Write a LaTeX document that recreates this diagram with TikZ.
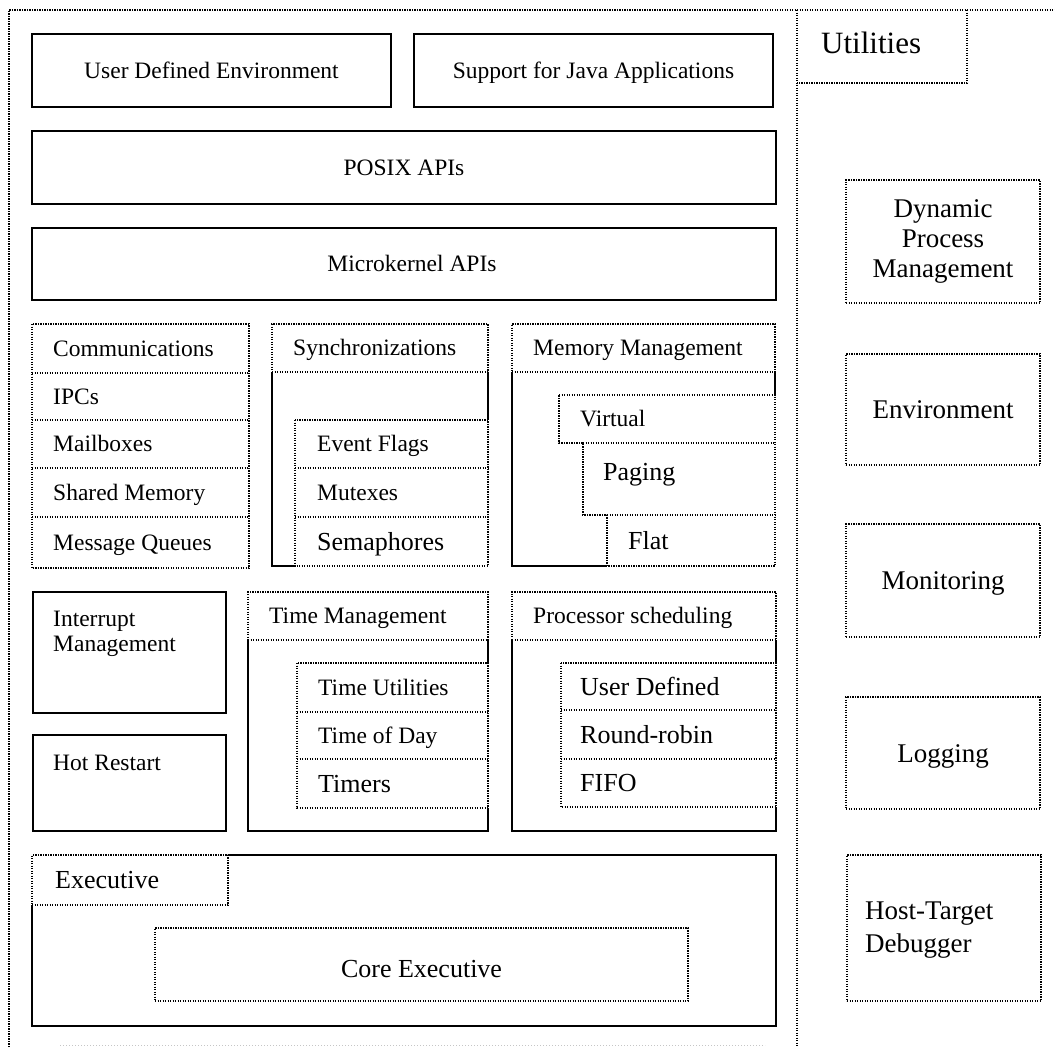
\documentclass[tikz,border=0pt]{standalone}
\usepackage{fontspec}
\setmainfont{Liberation Serif}
\newcommand\fnorm{\fontsize{23.5}{27}\selectfont}
\newcommand\fbig{\fontsize{26}{30}\selectfont}
\newcommand\fright{\fontsize{27}{30}\selectfont}
\newcommand\futil{\fontsize{31}{36}\selectfont}
% #1 style, #2 name, #3 x1, #4 y1, #5 x2, #6 y2 (pixel coordinates, y downwards)
\newcommand\rbox[6]{\node[#1, anchor=north west, minimum width={#5-#3}, minimum height={#6-#4}] (#2) at (#3,#4) {};}
\tikzset{
  solidbox/.style={draw, line width=2.4pt, inner sep=0pt, outer sep=0pt},
  dotbox/.style={draw, line width=1.9pt, dash pattern=on 1.4pt off 1.1pt, inner sep=0pt, outer sep=0pt},
  nobox/.style={draw=none, inner sep=0pt, outer sep=0pt},
  solidline/.style={line width=2.4pt},
  dotline/.style={line width=1.9pt, dash pattern=on 1.4pt off 1.1pt},
  faintline/.style={gray!45, line width=0.8pt, dash pattern=on 1pt off 2pt},
  lbl/.style={font=\fnorm, inner sep=0pt, anchor=west, text height=15.5pt, text depth=0pt},
  blbl/.style={font=\fbig, inner sep=0pt, anchor=west, text height=17pt, text depth=0pt},
  clbl/.style={font=\fnorm, inner sep=0pt, anchor=center, text height=15.5pt, text depth=0pt},
  rlbl/.style={font=\fright, inner sep=0pt, align=center},
}
\begin{document}
\begin{tikzpicture}[x=1pt, y=-1pt]
\useasboundingbox (0,0) rectangle (1055,1047);

% frame
\coordinate (ftl) at (9,10);
\coordinate (ftr) at (1055,10);
\coordinate (fbl) at (9,1047);
\coordinate (fdt) at (797,10);
\coordinate (fdb) at (797,1047);
\coordinate (fbotl) at (60,1045);
\coordinate (fbotr) at (765,1045);
\draw[dotline, line width=2.1pt] (fbl) -- (ftl) -- (ftr);
\draw[dotline, line width=2.1pt] (fdt) -- (fdb);
\draw[faintline] (fbotl) -- (fbotr);

% top layers
\rbox{solidbox}{ude}{32}{34}{391}{107}
\node[clbl] at (ude.center) {User Defined Environment};
\rbox{solidbox}{java}{414}{34}{773}{107}
\node[clbl] at (java.center) {Support for Java Applications};
\rbox{solidbox}{posix}{32}{131}{776}{204}
\node[clbl] at (posix.center) {POSIX APIs};
\rbox{solidbox}{mk}{32}{228}{776}{300}
\node[clbl] at ([xshift=8pt]mk.center) {Microkernel APIs};

% Communications
\rbox{nobox}{comm}{32}{324}{249}{373}
\rbox{nobox}{ipc}{32}{373}{249}{420}
\rbox{nobox}{mail}{32}{420}{249}{468}
\rbox{nobox}{shm}{32}{468}{249}{517}
\rbox{nobox}{mq}{32}{517}{249}{568}
\draw[dotline] (comm.north west) rectangle (mq.south east);
\foreach \c in {ipc,mail,shm,mq} \draw[dotline] (\c.north west) -- (\c.north east);
\node[lbl] at ([xshift=21pt]comm.west) {Communications};
\node[lbl] at ([xshift=21pt]ipc.west) {IPCs};
\node[lbl] at ([xshift=21pt]mail.west) {Mailboxes};
\node[lbl] at ([xshift=21pt]shm.west) {Shared Memory};
\node[lbl] at ([xshift=21pt]mq.west) {Message Queues};

% Synchronizations
\rbox{dotbox}{synh}{272}{324}{488}{372}
\rbox{nobox}{synb}{272}{372}{488}{566}
\rbox{nobox}{ef}{295}{420}{488}{468}
\rbox{nobox}{mut}{295}{468}{488}{517}
\rbox{nobox}{sem}{295}{517}{488}{566}
\draw[dotline] (ef.north west) rectangle (sem.south east);
\foreach \c in {mut,sem} \draw[dotline] (\c.north west) -- (\c.north east);
\draw[solidline] (synb.north east) -- (ef.north east);
\draw[solidline] (synb.north west) |- (sem.south west);
\node[lbl] at ([xshift=21pt]synh.west) {Synchronizations};
\node[lbl] at ([xshift=22pt]ef.west) {Event Flags};
\node[lbl] at ([xshift=22pt]mut.west) {Mutexes};
\node[blbl] at ([xshift=22pt]sem.west) {Semaphores};

% Memory Management
\rbox{dotbox}{memh}{512}{324}{775}{372}
\rbox{nobox}{memb}{512}{372}{775}{566}
\rbox{nobox}{virt}{559}{395}{775}{443}
\rbox{nobox}{pag}{583}{443}{775}{515}
\rbox{nobox}{flat}{607}{515}{775}{566}
\draw[dotline] (virt.north west) -- (virt.north east) -- (flat.south east) -- (flat.south west)
  -- (flat.north west) -- (pag.south west) -- (pag.north west) -- (virt.south west) -- cycle;
\foreach \c in {pag,flat} \draw[dotline] (\c.north west) -- (\c.north east);
\draw[solidline] (memb.north east) -- (virt.north east);
\draw[solidline] (memb.north west) |- (flat.south west);
\node[lbl] at ([xshift=21pt]memh.west) {Memory Management};
\node[lbl] at ([xshift=21pt]virt.west) {Virtual};
\node[blbl] at ([xshift=20pt,yshift=-29pt]pag.north west) {Paging};
\node[blbl] at ([xshift=21pt]flat.west) {Flat};

% Interrupt / Hot restart
\rbox{solidbox}{intr}{33}{592}{226}{713}
\node[font=\fnorm, inner sep=0pt, align=left, anchor=base west] at ([xshift=20pt,yshift=-59pt]intr.north west) {Interrupt\\[-2pt]Management};
\rbox{solidbox}{hot}{33}{735}{226}{831}
\node[font=\fnorm, inner sep=0pt, anchor=base west] at ([xshift=20pt,yshift=-35pt]hot.north west) {Hot Restart};

% Time Management
\rbox{dotbox}{timh}{248}{592}{488}{640}
\rbox{nobox}{timb}{248}{640}{488}{831}
\rbox{nobox}{tu}{297}{663}{488}{712}
\rbox{nobox}{tod}{297}{712}{488}{759}
\rbox{nobox}{tmr}{297}{759}{488}{808}
\draw[dotline] (tu.north west) rectangle (tmr.south east);
\foreach \c in {tod,tmr} \draw[dotline] (\c.north west) -- (\c.north east);
\draw[solidline] (timb.north east) -- (tu.north east);
\draw[solidline] (tmr.south east) -- (timb.south east) -| (timb.north west);
\node[lbl] at ([xshift=21pt]timh.west) {Time Management};
\node[lbl] at ([xshift=21pt]tu.west) {Time Utilities};
\node[lbl] at ([xshift=21pt]tod.west) {Time of Day};
\node[blbl] at ([xshift=21pt]tmr.west) {Timers};

% Processor scheduling
\rbox{dotbox}{prh}{512}{592}{776}{640}
\rbox{nobox}{prb}{512}{640}{776}{831}
\rbox{nobox}{ud}{561}{663}{776}{710}
\rbox{nobox}{rr}{561}{710}{776}{759}
\rbox{nobox}{fifo}{561}{759}{776}{807}
\draw[dotline] (ud.north west) rectangle (fifo.south east);
\foreach \c in {rr,fifo} \draw[dotline] (\c.north west) -- (\c.north east);
\draw[solidline] (prb.north east) -- (ud.north east);
\draw[solidline] (fifo.south east) -- (prb.south east) -| (prb.north west);
\node[lbl] at ([xshift=21pt]prh.west) {Processor scheduling};
\node[blbl] at ([xshift=19pt]ud.west) {User Defined};
\node[blbl] at ([xshift=19pt]rr.west) {Round-robin};
\node[blbl] at ([xshift=19pt]fifo.west) {FIFO};

% Executive
\rbox{dotbox}{exh}{32}{855}{228}{905}
\rbox{nobox}{exb}{32}{855}{776}{1026}
\rbox{dotbox}{core}{155}{928}{688}{1001}
\draw[solidline] (exh.south west) |- (exb.south east) |- (exh.north east);
\node[blbl] at ([xshift=23pt]exh.west) {Executive};
\node[font=\fbig, inner sep=0pt, text height=17pt, text depth=0pt] at ([yshift=-4pt]core.center) {Core Executive};

% Utilities column
\rbox{nobox}{util}{797}{10}{967}{83}
\draw[dotline] (util.north east) -- (util.south east) -- (util.south west);
\node[font=\futil, inner sep=0pt, anchor=west, text height=20pt, text depth=0pt] at ([xshift=24pt,yshift=3pt]util.west) {Utilities};
\rbox{dotbox}{dpm}{846}{180}{1040}{303}
\node[rlbl] at (dpm.center) {Dynamic\\Process\\Management};
\rbox{dotbox}{env}{846}{354}{1040}{465}
\node[rlbl, text height=18pt, text depth=0pt] at (env.center) {Environment};
\rbox{dotbox}{mon}{846}{524}{1040}{637}
\node[rlbl, text height=18pt, text depth=0pt] at (mon.center) {Monitoring};
\rbox{dotbox}{logg}{846}{697}{1040}{809}
\node[rlbl, text height=18pt, text depth=0pt] at (logg.center) {Logging};
\rbox{dotbox}{ht}{847}{855}{1041}{1001}
\node[font=\fright, inner sep=0pt, align=left, anchor=west] at ([xshift=18pt,yshift=-2pt]ht.west) {Host-Target\\[3pt]Debugger};
\end{tikzpicture}
\end{document}
